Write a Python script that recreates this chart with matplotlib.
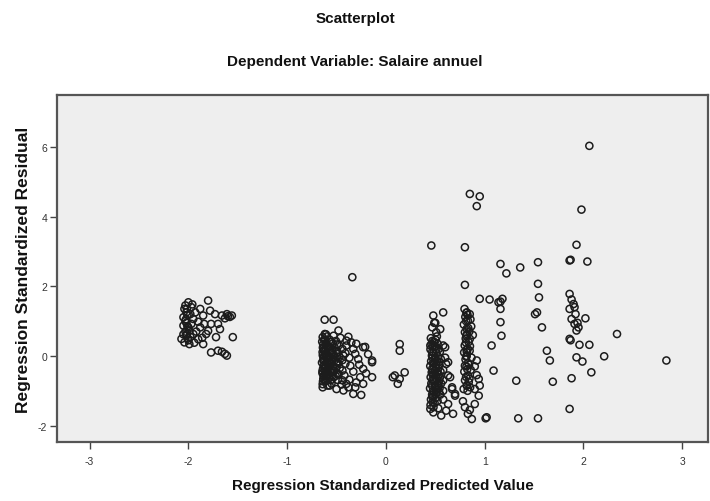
import matplotlib
matplotlib.use("Agg")
import matplotlib.pyplot as plt

plt.rcParams["font.family"] = ["Liberation Sans", "DejaVu Sans"]
plt.rcParams["axes.unicode_minus"] = False

# Regression standardized predicted values (x) and standardized residuals (y),
# grouped by the bands that appear along the predicted axis.
pred_band1 = [-1.80, -2.00, -1.88, -2.04, -1.73, -1.61, -1.58, -1.66, -1.85, -1.95,
              -2.05, -1.77, -1.68, -1.88, -2.00, -2.05, -1.95, -1.82, -1.72, -1.55,
              -2.07, -1.99, -1.85, -2.04, -1.77, -1.70, -1.63, -1.61, -1.66, -1.56,
              -2.03, -2.02, -2.01, -2.03, -2.02, -1.99, -2.03, -2.02, -2.00, -1.97,
              -1.93, -1.90, -1.92, -1.90, -1.97, -1.84, -1.80, -1.78, -1.70, -1.86,
              -1.94, -2.05, -1.98, -1.63, -1.60,
              -2.015, -2.025, -2.010, -2.020, -2.005, -1.96, -1.98]
resid_band1 = [1.59, 1.54, 1.35, 1.35, 1.20, 1.20, 1.12, 1.16, 1.16, 1.06,
               1.11, 0.92, 0.77, 0.82, 0.82, 0.87, 0.63, 0.63, 0.54, 0.54,
               0.49, 0.34, 0.34, 0.39, 0.10, 0.15, 0.06, 0.01, 0.12, 1.16,
               1.45, 1.25, 1.18, 1.00, 0.95, 0.72, 0.70, 0.58, 0.45, 0.92,
               1.25, 0.98, 0.70, 0.48, 1.40, 0.92, 0.72, 1.30, 0.92, 0.52,
               0.38, 0.62, 1.20, 1.08, 1.14,
               1.35, 1.05, 0.85, 0.62, 0.50, 1.48, 0.55]

pred_band2 = [-0.62, -0.53, -0.48, -0.64, -0.53, -0.40, -0.35, -0.23, -0.33, -0.28,
              -0.14, -0.23, -0.14, -0.26, -0.23, -0.30, -0.38, -0.43, -0.25, -0.33,
              -0.50, -0.57, -0.64, -0.42, -0.36, -0.31, -0.43, -0.40, -0.34, -0.21,
              -0.14,
              -0.645, -0.638, -0.641, -0.632, -0.647, -0.636, -0.643, -0.634, -0.640,
              -0.618, -0.625, -0.612, -0.622, -0.615, -0.628, -0.611, -0.620, -0.626, -0.614,
              -0.596, -0.604, -0.591, -0.607, -0.598, -0.588, -0.603, -0.594, -0.609, -0.592,
              -0.566, -0.578, -0.561, -0.574, -0.569, -0.581, -0.563, -0.576,
              -0.538, -0.546, -0.531, -0.549, -0.535, -0.543, -0.528, -0.551,
              -0.506, -0.517, -0.502, -0.513, -0.498, -0.521, -0.509,
              -0.476, -0.488, -0.471, -0.483, -0.468, -0.479, -0.486,
              -0.46, -0.45, -0.44, -0.44, -0.44, -0.44, -0.41, -0.41, -0.40, -0.38,
              -0.37, -0.37, -0.33, -0.31, -0.30, -0.27, -0.20, -0.18,
              -0.635, -0.630, -0.639, -0.633, -0.628, -0.642, -0.631, -0.637,
              -0.607, -0.613, -0.601, -0.610, -0.605, -0.599, -0.612, -0.603, -0.608,
              -0.555, -0.561, -0.552, -0.558, -0.563, -0.550, -0.557, -0.560,
              -0.495, -0.500, -0.492, -0.497, -0.503, -0.490]
resid_band2 = [1.04, 1.04, 0.73, 0.54, 0.58, 0.44, 0.39, 0.25, 0.20, -0.09,
               -0.13, -0.37, -0.61, -0.61, -0.80, -0.76, -0.90, -0.99, -1.12, -1.09,
               -0.95, -0.85, -0.90, -0.56, -0.28, 0.06, 0.01, 0.30, 2.26, 0.26,
               -0.18,
               0.41, 0.24, 0.11, -0.06, -0.19, -0.36, -0.49, -0.66, -0.81,
               0.63, 0.47, 0.33, 0.17, 0.03, -0.13, -0.27, -0.43, -0.57, -0.73,
               0.56, 0.37, 0.23, 0.07, -0.09, -0.23, -0.41, -0.54, -0.71, -0.85,
               0.46, 0.27, 0.13, -0.04, -0.17, -0.34, -0.47, -0.64,
               0.36, 0.17, 0.03, -0.16, -0.29, -0.47, -0.61, -0.79,
               0.43, 0.23, 0.07, -0.11, -0.25, -0.43, -0.57,
               0.31, 0.11, -0.03, -0.21, -0.35, -0.53, -0.69,
               0.52, -0.82, 0.20, -0.12, -0.42, -0.70, 0.08, -0.22, -0.80, 0.55,
               -0.05, -0.68, -0.45, -0.90, 0.35, -0.25, -0.50, 0.05,
               0.33, 0.17, 0.02, -0.13, -0.28, -0.43, -0.58, -0.73,
               0.62, 0.46, 0.30, 0.15, 0.00, -0.16, -0.32, -0.47, -0.63,
               0.40, 0.24, 0.08, -0.08, -0.23, -0.39, -0.55, -0.70,
               0.33, 0.15, -0.02, -0.18, -0.34, -0.50]

pred_band3 = [0.14, 0.14, 0.19, 0.09, 0.14, 0.12, 0.07]
resid_band3 = [0.34, 0.15, -0.47, -0.56, -0.66, -0.80, -0.61]

pred_band4 = [0.48, 0.58, 0.47, 0.51, 0.45, 0.58, 0.61, 0.63, 0.67, 0.70,
              0.61, 0.48, 0.45, 0.68, 0.46, 0.55, 0.60, 0.63, 0.65, 0.67,
              0.70, 0.63, 0.56,
              0.455, 0.462, 0.451, 0.466, 0.458, 0.449, 0.464, 0.453, 0.460, 0.447,
              0.468, 0.456, 0.452,
              0.486, 0.494, 0.481, 0.497, 0.489, 0.478, 0.492, 0.484, 0.499, 0.487,
              0.476, 0.493, 0.482, 0.490,
              0.516, 0.524, 0.511, 0.527, 0.519, 0.508, 0.522, 0.514, 0.529, 0.517,
              0.506, 0.523,
              0.546, 0.557, 0.541, 0.553, 0.548, 0.559, 0.543, 0.551,
              0.58, 0.58, 0.58, 0.58, 0.60, 0.50, 0.53,
              0.470, 0.474, 0.468, 0.472, 0.476, 0.469, 0.473, 0.471, 0.467, 0.475,
              0.470, 0.474,
              0.505, 0.501, 0.508, 0.503, 0.506, 0.500, 0.507, 0.502, 0.504, 0.509,
              0.501,
              0.535, 0.538, 0.532, 0.536, 0.539, 0.533, 0.537]
resid_band4 = [1.16, 1.25, 0.82, 0.68, 0.30, 0.30, -0.23, -0.56, -0.90, -1.09,
               -1.57, -1.62, -1.52, -1.66, 3.17, 0.77, 0.25, -0.18, -0.61, -0.95,
               -1.14, -1.38, -1.71,
               0.51, 0.34, 0.19, 0.01, -0.15, -0.29, -0.47, -0.61, -0.79, -0.93,
               -1.11, -1.25, -1.41,
               0.41, 0.27, 0.09, -0.07, -0.21, -0.39, -0.53, -0.71, -0.85, -1.03,
               -1.17, -1.35, -1.47, 0.95,
               0.56, 0.35, 0.19, -0.01, -0.15, -0.33, -0.47, -0.65, -0.79, -0.97,
               -1.11, -1.29,
               0.11, -0.09, -0.25, -0.45, -0.61, -0.79, -0.93, -1.11,
               -0.40, -0.70, -1.00, -1.25, -0.05, 0.95, -1.50,
               0.43, 0.27, 0.11, -0.05, -0.21, -0.37, -0.53, -0.69, -0.85, -1.01,
               -1.17, -1.33,
               0.46, 0.28, 0.09, -0.09, -0.25, -0.41, -0.57, -0.73, -0.89, -1.05,
               -1.21,
               0.20, -0.17, -0.35, -0.53, -0.71, -0.87, -1.03]

pred_band5 = [0.82, 0.83, 0.80, 0.85, 0.82, 0.80, 0.83, 0.82, 0.92, 0.94,
              0.94, 0.90, 0.80, 0.83, 1.02, 0.87, 0.78, 0.85,
              0.796, 0.804, 0.789, 0.808, 0.798, 0.792, 0.806, 0.794, 0.801, 0.787,
              0.826, 0.834, 0.821, 0.837, 0.829, 0.818, 0.832, 0.824, 0.839, 0.827,
              0.856, 0.864, 0.851, 0.867, 0.859, 0.853, 0.88, 0.90, 0.90, 0.92, 0.95,
              0.815, 0.812, 0.818, 0.814, 0.811, 0.817, 0.813, 0.816, 0.812, 0.819,
              0.845, 0.848, 0.842, 0.846, 0.849]
resid_band5 = [1.25, 1.01, 0.68, 0.49, 0.11, -0.28, -0.56, -0.85, -0.13, -0.66,
               -1.14, -1.38, -1.47, -1.66, -1.76, -1.81, -1.30, -1.55,
               1.35, 1.12, 0.90, 0.50, 0.30, 0.10, -0.10, -0.45, -0.70, -0.95,
               1.18, 0.80, 0.62, 0.40, 0.20, 0.00, -0.20, -0.38, -0.75, -1.00,
               1.05, 0.85, 0.28, -0.05, -0.40, -0.90, 0.60, -0.30, -0.95, -0.55, -0.85,
               1.24, 1.00, 0.78, 0.58, 0.38, 0.18, -0.02, -0.30, -0.60, -0.85,
               0.70, 0.15, -0.25, -0.65, 1.20]

pred_band6 = [0.85, 0.95, 0.92, 0.80, 0.80, 0.95, 1.05, 1.16, 1.18, 1.16,
              1.16, 1.17, 1.07, 1.09, 1.01, 1.34, 1.54, 1.32, 1.16, 1.22,
              1.36, 1.54, 1.54, 1.55, 1.53, 1.51, 1.58, 1.63, 1.66, 1.69, 1.14]
resid_band6 = [4.65, 4.58, 4.30, 3.12, 2.04, 1.64, 1.62, 1.56, 1.64, 1.35,
               0.97, 0.58, 0.30, -0.42, -1.79, -1.79, -1.79, -0.71, 2.64, 2.37,
               2.54, 2.69, 2.07, 1.68, 1.25, 1.20, 0.82, 0.15, -0.13, -0.74, 1.54]

pred_band7 = [2.06, 1.98, 1.93, 1.86, 1.87, 2.04, 1.86, 1.90, 1.91, 1.86,
              1.88, 1.91, 1.95, 1.93, 2.02, 1.86, 1.87, 1.96, 2.06, 1.93,
              1.99, 2.08, 1.88, 1.86, 2.21, 2.34, 2.84, 1.88, 1.92, 1.94]
resid_band7 = [6.03, 4.20, 3.19, 2.74, 2.76, 2.71, 1.78, 1.49, 1.40, 1.35,
               1.06, 0.92, 0.82, 0.73, 1.08, 0.49, 0.45, 0.32, 0.32, -0.04,
               -0.16, -0.47, -0.64, -1.52, -0.01, 0.63, -0.13, 1.62, 1.20, 0.95]

x_ticks = [-3, -2, -1, 0, 1, 2, 3]
y_ticks = [-2, 0, 2, 4, 6]

predicted = (pred_band1 + pred_band2 + pred_band3 + pred_band4
             + pred_band5 + pred_band6 + pred_band7)
residual = (resid_band1 + resid_band2 + resid_band3 + resid_band4
            + resid_band5 + resid_band6 + resid_band7)

fig = plt.figure(figsize=(7.10, 5.02), dpi=100)
fig.patch.set_facecolor("white")
ax = fig.add_axes([0.0803, 0.1175, 0.9167, 0.6913])
ax.set_facecolor("#eeeeee")

ax.scatter(predicted, residual, s=26, facecolors="none", edgecolors="#1c1c1c",
           linewidths=1.1, zorder=3)

ax.set_xlim(-3.33, 3.26)
ax.set_ylim(-2.47, 7.49)
ax.set_xticks(x_ticks)
ax.set_yticks(y_ticks)
ax.tick_params(axis="both", direction="out", length=5, width=1.0,
               color="#444444", labelsize=7.5, labelcolor="#333333")
ax.tick_params(axis="x", pad=5)
ax.tick_params(axis="y", pad=2)
for side in ["top", "right", "bottom", "left"]:
    ax.spines[side].set_color("#555555")
    ax.spines[side].set_linewidth(1.6)

ax.set_xlabel("Regression Standardized Predicted Value", fontsize=11,
              fontweight="bold", color="#111111", labelpad=9)
ax.set_ylabel("Regression Standardized Residual", fontsize=12.5,
              fontweight="bold", color="#111111", labelpad=5)

fig.text(0.5, 0.963, "Scatterplot", ha="center", va="center",
         fontsize=11, fontweight="bold", color="#111111")
fig.text(0.5, 0.876, "Dependent Variable: Salaire annuel", ha="center",
         va="center", fontsize=11, fontweight="bold", color="#111111")

fig.savefig("out.png", dpi=100)
